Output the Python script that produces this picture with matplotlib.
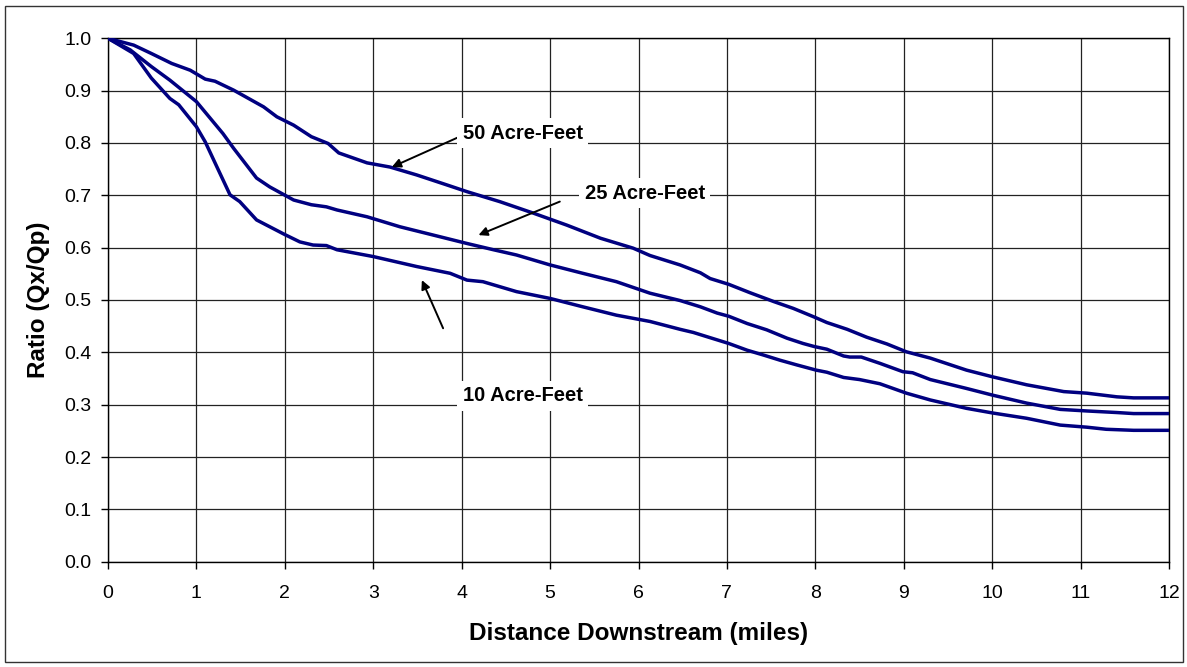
import matplotlib
matplotlib.use('Agg')
import matplotlib.pyplot as plt
from matplotlib.patches import Rectangle

plt.rcParams['font.family'] = ['Liberation Sans', 'DejaVu Sans']

# distance downstream (miles) and Qx/Qp ratios
x_50 = [0, 0.29, 0.49, 0.72, 0.93, 1.10, 1.21, 1.42, 1.76, 1.91, 2.10, 2.30, 2.49, 2.61,
        2.93, 3.19, 3.49, 3.83, 4.06, 4.43, 4.81, 5.19, 5.57, 5.94, 6.13, 6.47, 6.70,
        6.81, 7.02, 7.26, 7.53, 7.75, 7.98, 8.13, 8.36, 8.58, 8.81, 9.03, 9.30, 9.71,
        10.01, 10.39, 10.81, 11.07, 11.41, 11.60, 12.0]
y_50 = [1.0, 0.987, 0.971, 0.952, 0.939, 0.922, 0.918, 0.901, 0.869, 0.850, 0.834, 0.812,
        0.799, 0.781, 0.762, 0.754, 0.739, 0.720, 0.707, 0.688, 0.666, 0.643, 0.618, 0.599,
        0.585, 0.567, 0.552, 0.541, 0.530, 0.514, 0.497, 0.484, 0.468, 0.457, 0.444, 0.429,
        0.416, 0.401, 0.389, 0.366, 0.353, 0.338, 0.325, 0.322, 0.315, 0.313, 0.313]

x_25 = [0, 0.25, 0.49, 0.70, 1.00, 1.30, 1.42, 1.68, 1.83, 2.10, 2.30, 2.47, 2.59, 2.93,
        3.30, 3.68, 4.06, 4.36, 4.62, 5.00, 5.37, 5.75, 6.13, 6.47, 6.70, 6.89, 7.02,
        7.23, 7.45, 7.68, 7.86, 7.99, 8.13, 8.32, 8.39, 8.52, 8.73, 8.99, 9.10, 9.30,
        9.71, 10.01, 10.39, 10.77, 11.07, 11.41, 11.60, 12.0]
y_25 = [1.0, 0.978, 0.946, 0.920, 0.879, 0.818, 0.790, 0.733, 0.716, 0.691, 0.682, 0.678,
        0.672, 0.659, 0.640, 0.624, 0.608, 0.596, 0.586, 0.567, 0.551, 0.535, 0.513, 0.499,
        0.487, 0.475, 0.469, 0.455, 0.443, 0.427, 0.417, 0.411, 0.406, 0.393, 0.391, 0.391,
        0.379, 0.363, 0.361, 0.348, 0.331, 0.318, 0.303, 0.291, 0.288, 0.285, 0.283, 0.283]

x_10 = [0, 0.29, 0.49, 0.70, 0.80, 1.00, 1.10, 1.23, 1.38, 1.49, 1.68, 2.00, 2.17, 2.32,
        2.47, 2.59, 3.00, 3.49, 3.87, 4.06, 4.24, 4.62, 5.00, 5.37, 5.75, 6.13, 6.47,
        6.62, 6.81, 7.02, 7.23, 7.41, 7.60, 7.79, 8.01, 8.13, 8.32, 8.50, 8.73, 9.03,
        9.30, 9.71, 10.01, 10.39, 10.77, 11.07, 11.29, 11.60, 12.0]
y_10 = [1.0, 0.971, 0.924, 0.885, 0.873, 0.831, 0.802, 0.755, 0.701, 0.688, 0.653, 0.625,
        0.611, 0.605, 0.604, 0.596, 0.583, 0.564, 0.551, 0.538, 0.535, 0.516, 0.503, 0.487,
        0.471, 0.459, 0.444, 0.438, 0.428, 0.417, 0.404, 0.395, 0.385, 0.376, 0.366, 0.362,
        0.352, 0.348, 0.340, 0.322, 0.309, 0.293, 0.284, 0.274, 0.261, 0.257, 0.253, 0.251,
        0.251]

labels = ['50 Acre-Feet', '25 Acre-Feet', '10 Acre-Feet']
label_pos = [(4.69, 0.819), (6.07, 0.704), (4.69, 0.317)]
arrow_tail = [(3.95, 0.810), (5.11, 0.688), (3.79, 0.446)]
arrow_head = [(3.21, 0.754), (4.19, 0.624), (3.55, 0.538)]

fig = plt.figure(figsize=(11.87, 6.67), dpi=100)
ax = fig.add_axes([108 / 1187, 1 - 561.7 / 667, (1169 - 108) / 1187, (561.7 - 38.3) / 667])

# outer chart frame
fig.patches.append(Rectangle((5 / 1187, 1 - 662 / 667), 1178 / 1187, 656 / 667,
                             transform=fig.transFigure, fill=False,
                             edgecolor='#333333', linewidth=1.0))

for xs, ys in [(x_50, y_50), (x_25, y_25), (x_10, y_10)]:
    ax.plot(xs, ys, color='#000080', linewidth=2.5, solid_joinstyle='round', zorder=3)

for text, pos, tail, head in zip(labels, label_pos, arrow_tail, arrow_head):
    ax.annotate('', xy=head, xytext=tail,
                arrowprops=dict(arrowstyle='-|>', color='black', lw=1.4,
                                mutation_scale=13, shrinkA=0, shrinkB=0), zorder=4)
    ax.text(pos[0], pos[1], text, ha='center', va='center', fontsize=14.5,
            fontweight='bold', zorder=5,
            bbox=dict(facecolor='white', edgecolor='none', pad=4))

ax.set_xlim(0, 12)
ax.set_ylim(0, 1.0)
ax.set_xticks(range(0, 13))
ax.set_yticks([i / 10 for i in range(11)])
ax.set_yticklabels([f'{i / 10:.1f}' for i in range(11)])
ax.grid(True, color='#222222', linewidth=0.9)
ax.set_axisbelow(True)
for s in ax.spines.values():
    s.set_color('black')
    s.set_linewidth(1.0)
ax.tick_params(direction='out', length=5, width=1, labelsize=14, colors='black', pad=7)
ax.tick_params(axis='x', pad=12)

ax.set_xlabel('Distance Downstream (miles)', fontsize=17.5, fontweight='bold', labelpad=14)
ax.set_ylabel('Ratio (Qx/Qp)', fontsize=17.5, fontweight='bold', labelpad=10)

fig.savefig('out.png', dpi=100)
